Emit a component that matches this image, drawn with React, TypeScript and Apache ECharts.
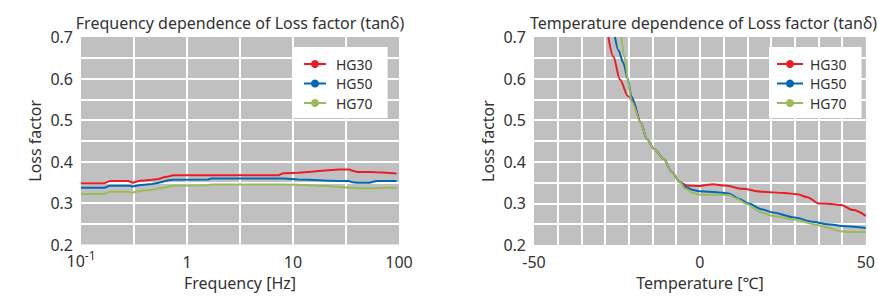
import React, { useEffect, useRef } from 'react';
import * as echarts from 'echarts';

const seriesNames = ['HG30', 'HG50', 'HG70'];
const seriesColors = ['#ed1c24', '#0068b7', '#9bbb59'];

// Frequency dependence (Hz)
const freqHz = [0.1, 0.167, 0.186, 0.284, 0.305, 0.352, 0.468, 0.54, 0.6, 0.667, 0.74, 1.58, 1.7, 5.4, 7.3, 8.1, 11.2, 14, 17.5, 21.8, 27.2, 33.9, 36.5, 40.7, 52.7, 61, 76, 95];
const freqHG30 = [0.348, 0.348, 0.353, 0.353, 0.349, 0.353, 0.356, 0.358, 0.362, 0.364, 0.367, 0.367, 0.367, 0.367, 0.367, 0.372, 0.373, 0.375, 0.377, 0.379, 0.381, 0.381, 0.378, 0.375, 0.375, 0.374, 0.373, 0.371];
const freqHG50 = [0.337, 0.337, 0.342, 0.342, 0.340, 0.343, 0.346, 0.349, 0.352, 0.355, 0.356, 0.357, 0.359, 0.359, 0.359, 0.359, 0.357, 0.356, 0.355, 0.354, 0.353, 0.353, 0.350, 0.349, 0.349, 0.353, 0.353, 0.353];
const freqHG70 = [0.322, 0.322, 0.327, 0.327, 0.325, 0.329, 0.332, 0.335, 0.337, 0.340, 0.342, 0.343, 0.345, 0.345, 0.345, 0.345, 0.344, 0.343, 0.342, 0.341, 0.339, 0.337, 0.337, 0.336, 0.336, 0.336, 0.337, 0.337];

// Temperature dependence (°C)
const tempHG30T = [-27.6, -26.1, -24.1, -21.7, -20.2, -17.8, -16.0, -13.8, -10.9, -8.4, -6.0, -4.0, 0, 3.9, 7.8, 12.7, 18.6, 25.5, 29.4, 32.4, 35.8, 40.3, 42.5, 46.2, 50];
const tempHG30 = [0.700, 0.653, 0.598, 0.558, 0.546, 0.494, 0.455, 0.431, 0.407, 0.375, 0.351, 0.343, 0.342, 0.346, 0.343, 0.335, 0.328, 0.325, 0.322, 0.315, 0.300, 0.298, 0.296, 0.284, 0.270];
const tempHG50T = [-25.6, -24.6, -23.1, -21.7, -20.7, -17.8, -16.0, -13.8, -10.9, -8.4, -6.0, -4.0, -2.0, 0, 5.0, 8.7, 11.5, 14.7, 18.6, 22.0, 28.5, 34.0, 38.3, 44.0, 50];
const tempHG50 = [0.700, 0.669, 0.638, 0.598, 0.558, 0.494, 0.455, 0.431, 0.407, 0.375, 0.351, 0.338, 0.332, 0.329, 0.327, 0.324, 0.312, 0.300, 0.286, 0.278, 0.266, 0.256, 0.250, 0.245, 0.241];
const tempHG70T = [-23.7, -22.7, -21.7, -20.7, -17.8, -16.0, -13.8, -10.9, -8.4, -6.0, -4.4, -2.0, 0, 5.0, 8.8, 11.0, 13.7, 18.6, 22.0, 28.5, 34.4, 38.3, 42.2, 46.0, 50];
const tempHG70 = [0.700, 0.653, 0.598, 0.546, 0.494, 0.455, 0.431, 0.407, 0.375, 0.351, 0.335, 0.325, 0.321, 0.321, 0.320, 0.312, 0.300, 0.278, 0.270, 0.261, 0.250, 0.242, 0.233, 0.231, 0.231];

const titles = ['Frequency dependence of Loss factor (tanδ)', 'Temperature dependence of Loss factor (tanδ)'];
const xNames = ['Frequency [Hz]', 'Temperature [℃]'];
const yName = 'Loss factor';

const FONT = '"Noto Sans", "Noto Sans CJK JP", sans-serif';
const TEXT = '#333333';
const GRIDBG = '#c0c0c0';

const splitLine = { show: true, showMinLine: false, showMaxLine: false, lineStyle: { color: '#ffffff', width: 2 } };

const yAxisBase = (gridIndex: number) => ({
  type: 'value',
  gridIndex,
  min: 0.2,
  max: 0.7,
  interval: 0.05,
  axisLine: { show: false },
  axisTick: { show: false },
  splitLine,
  axisLabel: {
    margin: 8,
    fontFamily: FONT,
    fontSize: 16,
    lineHeight: 12,
    color: TEXT,
    formatter: (v: number) => {
      const k = Math.round(v * 20);
      return k % 2 === 0 ? (k / 20).toFixed(1) : '';
    },
  },
  name: yName,
  nameLocation: 'middle',
  nameGap: 38,
  nameTextStyle: { fontFamily: FONT, fontSize: 16, color: TEXT },
});

const legendBase = (left: number, padLeft: number, itemWidth: number, textPad: number) => ({
  data: seriesNames,
  orient: 'vertical',
  left,
  top: 47,
  backgroundColor: '#ffffff',
  padding: [10, 15, 8, padLeft],
  itemWidth,
  itemHeight: 10,
  itemGap: 5.5,
  itemStyle: { borderWidth: 0 },
  selectedMode: false,
  textStyle: { fontFamily: FONT, fontSize: 14, lineHeight: 14, color: TEXT, padding: [0, 0, 0, textPad] },
});

const freqData = [freqHG30, freqHG50, freqHG70];
const tempX = [tempHG30T, tempHG50T, tempHG70T];
const tempData = [tempHG30, tempHG50, tempHG70];

const option: any = {
  animation: false,
  backgroundColor: '#ffffff',
  textStyle: { fontFamily: FONT },
  grid: [
    { left: 81, top: 37, width: 318, height: 210, show: true, backgroundColor: GRIDBG, borderWidth: 0 },
    { left: 534, top: 37, width: 339, height: 210, show: true, backgroundColor: GRIDBG, borderWidth: 0 },
  ],
  xAxis: [
    {
      type: 'value',
      gridIndex: 0,
      min: -1,
      max: 2,
      interval: 0.5,
      axisLine: { show: false },
      axisTick: { show: false },
      splitLine,
      axisLabel: {
        margin: 8,
        color: TEXT,
        fontFamily: FONT,
        fontSize: 16,
        formatter: (v: number) => {
          const r = Math.round(v * 2) / 2;
          if (Math.abs(r - Math.round(r)) > 0.01) return '';
          const e = Math.round(r);
          if (e < 0) return '{b|10}{sup|' + e + '}';
          return '{n|' + String(Math.pow(10, e)) + '}';
        },
        rich: {
          n: { fontFamily: FONT, fontSize: 16, lineHeight: 16, padding: [3, 0, 0, 0], color: TEXT },
          b: { fontFamily: FONT, fontSize: 16, lineHeight: 16, verticalAlign: 'bottom', color: TEXT },
          sup: { fontFamily: FONT, fontSize: 12, lineHeight: 12, padding: [0, 0, 7, 0], verticalAlign: 'bottom', color: TEXT },
        },
      },
      name: xNames[0],
      nameLocation: 'middle',
      nameGap: 30,
      nameTextStyle: { fontFamily: FONT, fontSize: 16, color: TEXT, verticalAlign: 'top' },
    },
    {
      type: 'value',
      gridIndex: 1,
      min: -50,
      max: 50,
      interval: 50 / 7,
      axisLine: { show: false },
      axisTick: { show: false },
      splitLine,
      axisLabel: {
        margin: 9,
        color: TEXT,
        fontFamily: FONT,
        fontSize: 16,
        formatter: (v: number) => {
          const r = Math.round(v / 50) * 50;
          return Math.abs(v - r) < 0.01 ? String(r) : '';
        },
      },
      name: xNames[1],
      nameLocation: 'middle',
      nameGap: 30,
      nameTextStyle: { fontFamily: FONT, fontSize: 16, color: TEXT, verticalAlign: 'top' },
    },
  ],
  yAxis: [yAxisBase(0), yAxisBase(1)],
  legend: [legendBase(294, 9, 22, 5), legendBase(769, 7, 26, 2)],
  graphic: [
    { type: 'text', x: 240, y: 22.5, style: { text: titles[0], fontFamily: FONT, fontSize: 16, fill: TEXT, align: 'center', verticalAlign: 'middle' } },
    { type: 'text', x: 703.5, y: 22.5, style: { text: titles[1], fontFamily: FONT, fontSize: 16, fill: TEXT, align: 'center', verticalAlign: 'middle' } },
  ],
  series: [
    ...seriesNames.map((name, i) => ({
      name,
      type: 'line',
      xAxisIndex: 0,
      yAxisIndex: 0,
      symbol: 'circle',
      showSymbol: false,
      color: seriesColors[i],
      lineStyle: { width: 2, color: seriesColors[i] },
      data: freqHz.map((f, j) => [Math.log10(f), freqData[i][j]]),
    })),
    ...seriesNames.map((name, i) => ({
      name,
      type: 'line',
      xAxisIndex: 1,
      yAxisIndex: 1,
      symbol: 'circle',
      showSymbol: false,
      smooth: 0.3,
      smoothMonotone: 'x',
      color: seriesColors[i],
      lineStyle: { width: 2, color: seriesColors[i] },
      data: tempX[i].map((t, j) => [t, tempData[i][j]]),
    })),
  ],
};

export default function App() {
  const ref = useRef<HTMLDivElement>(null);
  useEffect(() => {
    document.body.style.margin = '0';
    const chart = echarts.init(ref.current as HTMLDivElement, null, { renderer: 'svg' });
    chart.setOption(option);
    return () => chart.dispose();
  }, []);
  return <div ref={ref} style={{ width: 878, height: 296 }} />;
}
